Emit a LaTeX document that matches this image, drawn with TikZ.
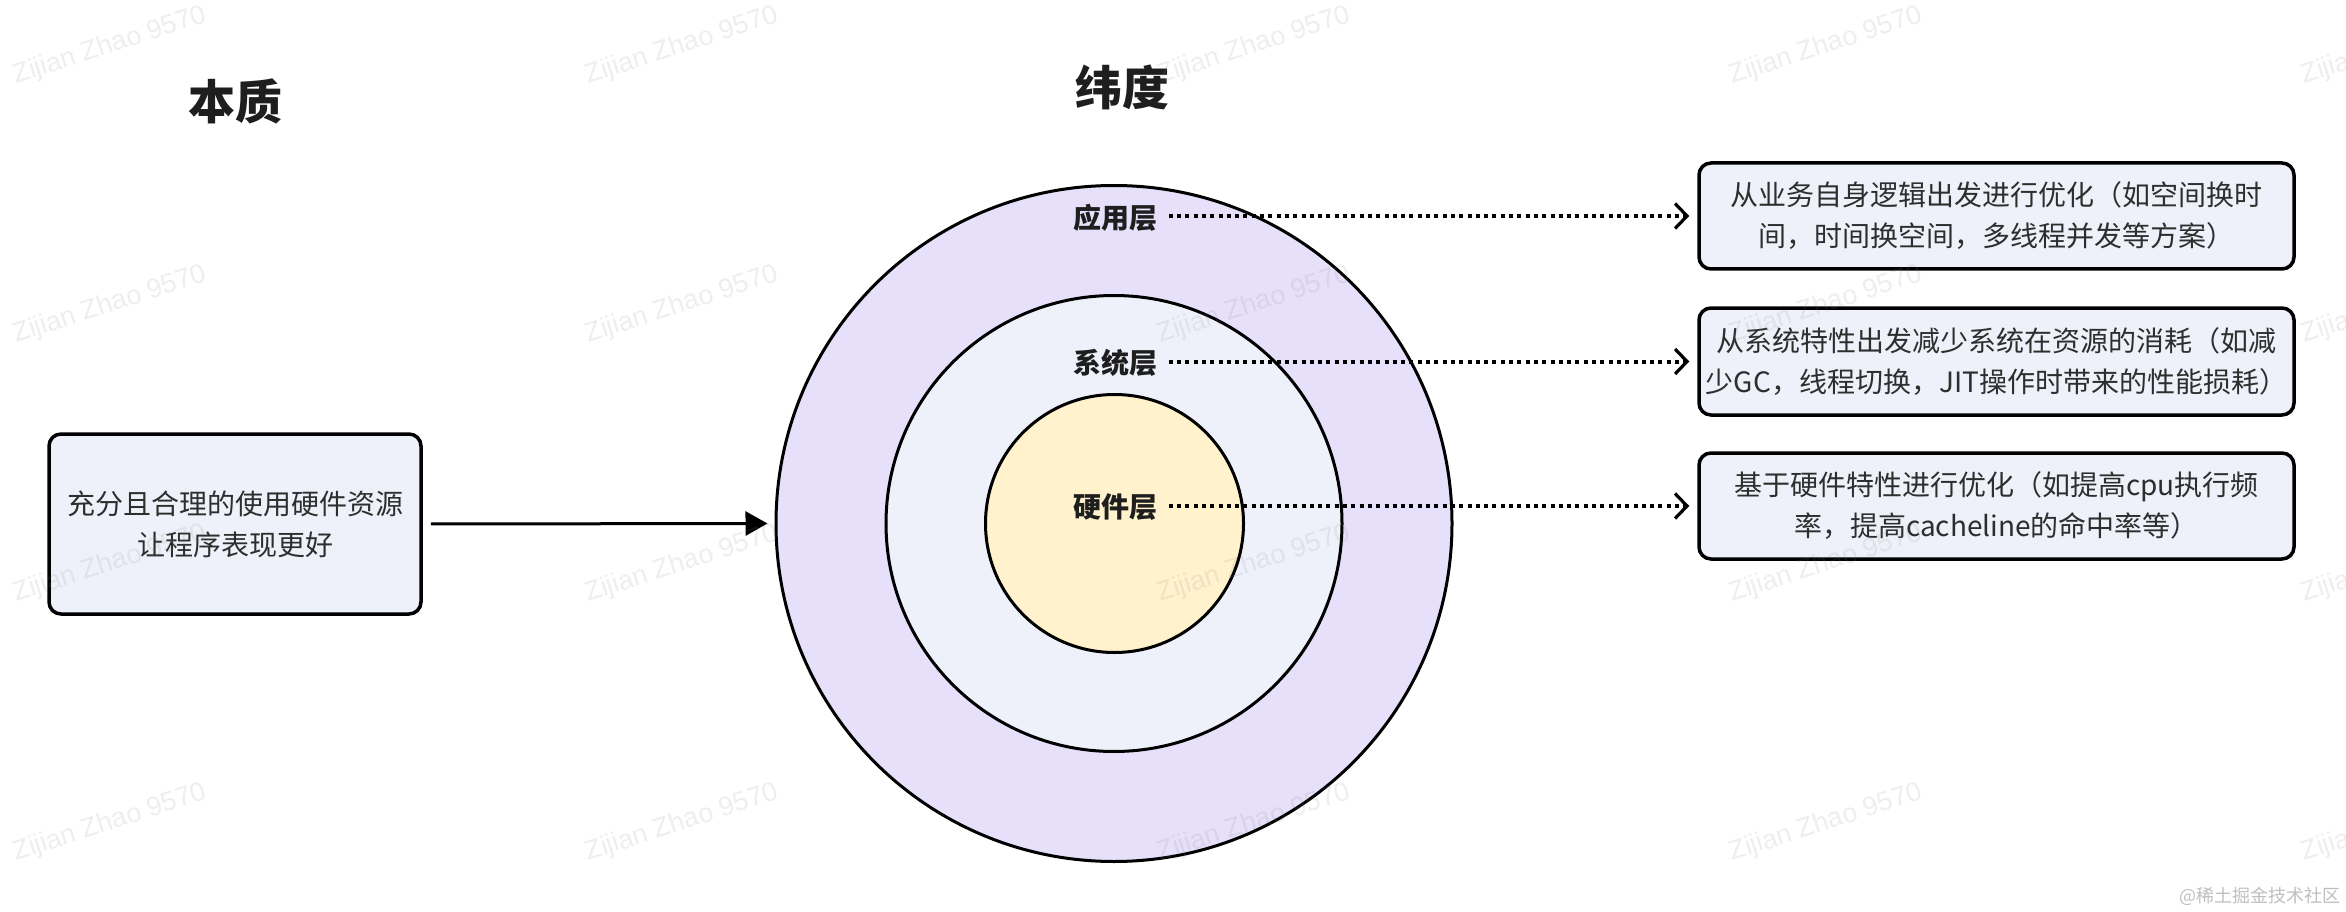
\documentclass[tikz,border=0pt]{standalone}
\usepackage{fontspec}
\setmainfont{Noto Sans CJK SC}
\newfontfamily\wmfont{Liberation Sans}
\usetikzlibrary{arrows.meta}
\definecolor{outerfill}{HTML}{E6E0FA}
\definecolor{midfill}{HTML}{EEF1FA}
\definecolor{innerfill}{HTML}{FFF2CC}
\definecolor{boxfill}{HTML}{EFF1FA}
\definecolor{txt}{HTML}{2E2E2E}
\definecolor{ttl}{HTML}{1E1E1E}
\definecolor{wm}{HTML}{808080}
\tikzset{
  title/.style={text=ttl, font=\fontsize{47}{50}\selectfont\bfseries, inner sep=0pt},
  layerlabel/.style={text=ttl, font=\fontsize{28}{30}\selectfont\bfseries, inner sep=0pt},
  ring/.style={circle, draw=black, line width=3pt, inner sep=0pt},
  infobox/.style={draw=black, line width=3.5pt, rounded corners=12pt, fill=boxfill,
    text=txt, align=center, font=\fontsize{28}{41}\selectfont, inner sep=0pt},
  dotlink/.style={line width=4pt, dash pattern=on 4pt off 4.3pt,
    -{Straight Barb[length=12pt,width=25pt,line width=3.2pt]}},
  solidlink/.style={line width=3pt, -{Triangle[length=22pt,width=24pt]}},
  watermark/.style={text=wm, opacity=0.13, rotate=18, inner sep=0pt,
    font=\wmfont\fontsize{27}{30}\selectfont}
}
\begin{document}
\begin{tikzpicture}[x=1pt,y=-1pt]
\useasboundingbox (0,0) rectangle (2346,912);
\fill[white] (0,0) rectangle (2346,912);

% titles
\node[title] (t1) at (235.5,101) {本质};
\node[title] (t2) at (1122,87) {纬度};

% rings
\node[ring, fill=outerfill, minimum size=676pt] (outer) at (1114,523.5) {};
\node[ring, fill=midfill, minimum size=456pt] (mid) at (1114,523.5) {};
\node[ring, fill=innerfill, minimum size=258pt] (inner) at (1114.5,523.5) {};

% layer labels
\node[layerlabel] (app) at (1115.5,217.5) {应用层};
\node[layerlabel] (sys) at (1115.5,363) {系统层};
\node[layerlabel] (hw) at (1115.5,507.5) {硬件层};

% left box
\node[infobox, minimum width=372pt, minimum height=180pt] (lbox) at (235,524)
  {充分且合理的使用硬件资源\\让程序表现更好};

% right boxes
\node[infobox, minimum width=595pt, minimum height=106pt] (b1) at (1996.5,216)
  {从业务自身逻辑出发进行优化（如空间换时\\间，时间换空间，多线程并发等方案）};
\node[infobox, minimum width=595pt, minimum height=107pt] (b2) at (1996.5,361.5)
  {从系统特性出发减少系统在资源的消耗（如减\\少GC，线程切换，JIT操作时带来的性能损耗）};
\node[infobox, minimum width=595pt, minimum height=106pt] (b3) at (1996.5,506)
  {基于硬件特性进行优化（如提高cpu执行频\\率，提高cacheline的命中率等）};

% connectors
\draw[solidlink, shorten <=8pt, shorten >=7pt] (lbox.east) -- (outer.west);
\draw[dotlink, shorten <=11pt, shorten >=8pt] (app.east |- b1.west) -- (b1.west);
\draw[dotlink, shorten <=11pt, shorten >=8pt] (sys.east |- b2.west) -- (b2.west);
\draw[dotlink, shorten <=11pt, shorten >=8pt] (hw.east |- b3.west) -- (b3.west);

% watermarks
\foreach \i in {0,...,4}{
  \foreach \j in {0,...,3}{
    \node[watermark] (wm-\i-\j) at ({110+572*\i},{46+259*\j}) {Zijian Zhao 9570};
  }
}
\node[text=black!25, font=\fontsize{18}{20}\selectfont, inner sep=0pt] (site) at (2260,896) {@稀土掘金技术社区};
\end{tikzpicture}
\end{document}
